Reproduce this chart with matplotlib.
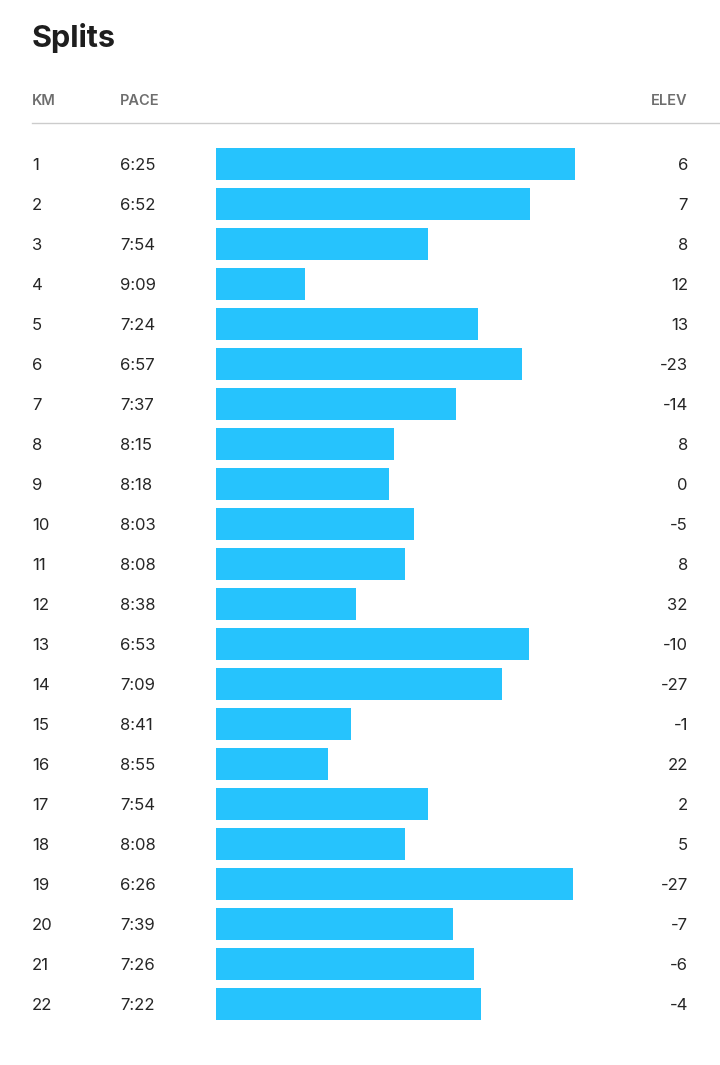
import matplotlib.pyplot as plt
import matplotlib.transforms as mtransforms

km = list(range(1, 23))
pace = ["6:25", "6:52", "7:54", "9:09", "7:24", "6:57", "7:37", "8:15", "8:18", "8:03", "8:08",
        "8:38", "6:53", "7:09", "8:41", "8:55", "7:54", "8:08", "6:26", "7:39", "7:26", "7:22"]
elev = [6, 7, 8, 12, 13, -23, -14, 8, 0, -5, 8, 32, -10, -27, -1, 22, 2, 5, -27, -7, -6, -4]

headers = ["KM", "PACE", "ELEV"]


def to_seconds(p: str) -> int:
    m, s = p.split(":")
    return int(m) * 60 + int(s)


# faster pace -> longer bar, measured from a slow reference pace
pace_ref = 603
bar_len = [pace_ref - to_seconds(p) for p in pace]

W, H = 720, 1065
plt.rcParams['font.family'] = ['Inter', 'DejaVu Sans']

fig = plt.figure(figsize=(W / 100, H / 100), dpi=100)
fig.patch.set_facecolor("white")

# bar area: rows centred at 164 + 40*i px
top_px, bot_px = 144, 1024
left_px = 216
ax = fig.add_axes([left_px / W, 1 - bot_px / H, (W - left_px) / W, (bot_px - top_px) / H])
ax.barh(range(len(km)), bar_len, height=0.8, left=0, color="#26c3fd", linewidth=0)
ax.set_xlim(0, (W - left_px) / 1.646)
ax.set_ylim(len(km) - 0.5, -0.5)
ax.axis("off")

trans = mtransforms.blended_transform_factory(fig.transFigure, ax.transData)
txt_color = "#262626"
base_off = 0.15  # baseline sits ~6px below row centre
for i in range(len(km)):
    ax.text(32 / W, i + base_off, str(km[i]), transform=trans, ha="left", va="baseline",
            fontsize=12, color=txt_color)
    ax.text(120 / W, i + base_off, pace[i], transform=trans, ha="left", va="baseline",
            fontsize=12, color=txt_color)
    ax.text(688 / W, i + base_off, str(elev[i]), transform=trans, ha="right", va="baseline",
            fontsize=12, color=txt_color)

# title and header
fig.text(32 / W, 1 - 47 / H, "Splits", ha="left", va="baseline",
         fontsize=22, fontweight="bold", color="#1e1e1e")
hdr_y = 1 - 105 / H
hdr_kw = dict(va="baseline", fontsize=10.5, fontweight="semibold", color="#6e6e6e")
fig.text(32 / W, hdr_y, headers[0], ha="left", **hdr_kw)
fig.text(120 / W, hdr_y, headers[1], ha="left", **hdr_kw)
fig.text(688 / W, hdr_y, headers[2], ha="right", **hdr_kw)
fig.add_artist(plt.Line2D([32 / W, 1], [1 - 123 / H, 1 - 123 / H], transform=fig.transFigure,
                          color="#cccccc", linewidth=1))

fig.savefig("out.png", dpi=100, facecolor="white")
